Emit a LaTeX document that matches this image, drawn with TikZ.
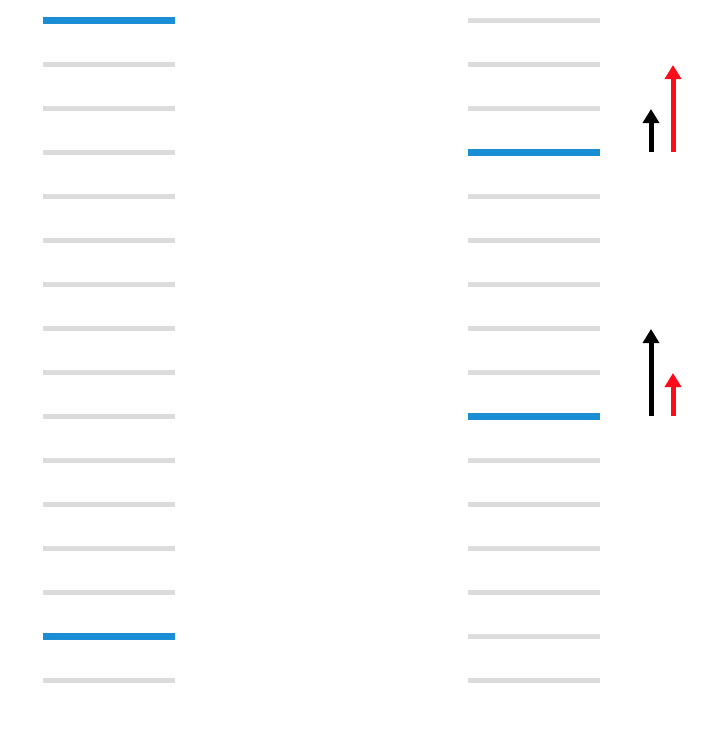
\documentclass[tikz,border=0pt]{standalone}
\usetikzlibrary{arrows.meta}
\definecolor{levelgray}{RGB}{220,220,220}
\definecolor{levelblue}{RGB}{26,142,212}
\definecolor{spinred}{RGB}{255,10,25}

\begin{document}
\begin{tikzpicture}[x=1pt, y=-1pt, >={Triangle[length=14pt,width=16pt]},
    level/.style={levelgray, line width=5pt},
    filled/.style={levelblue, line width=7pt},
    spin/.style={->, line width=5pt}]
    \useasboundingbox (0,0) rectangle (716,740);
    % empty levels
    \foreach \k in {0,...,15} {
        \draw[level] (43,20+44*\k) -- (175,20+44*\k);
        \draw[level] (468,20+44*\k) -- (600,20+44*\k);
    }
    % occupied levels
    \draw[filled] (43,20) -- (175,20);
    \draw[filled] (43,636) -- (175,636);
    \draw[filled] (468,152) -- (600,152);
    \draw[filled] (468,416) -- (600,416);
    % arrows
    \coordinate (Bone) at (651,152);
    \coordinate (Tone) at (651,109);
    \coordinate (Rone) at (673,152);
    \coordinate (Uone) at (673,65);
    \coordinate (Btwo) at (651,416);
    \coordinate (Ttwo) at (651,329);
    \coordinate (Rtwo) at (673,416);
    \coordinate (Utwo) at (673,373);
    \draw[spin, black] (Bone) -- (Tone);
    \draw[spin, spinred] (Rone) -- (Uone);
    \draw[spin, black] (Btwo) -- (Ttwo);
    \draw[spin, spinred] (Rtwo) -- (Utwo);
\end{tikzpicture}
\end{document}
